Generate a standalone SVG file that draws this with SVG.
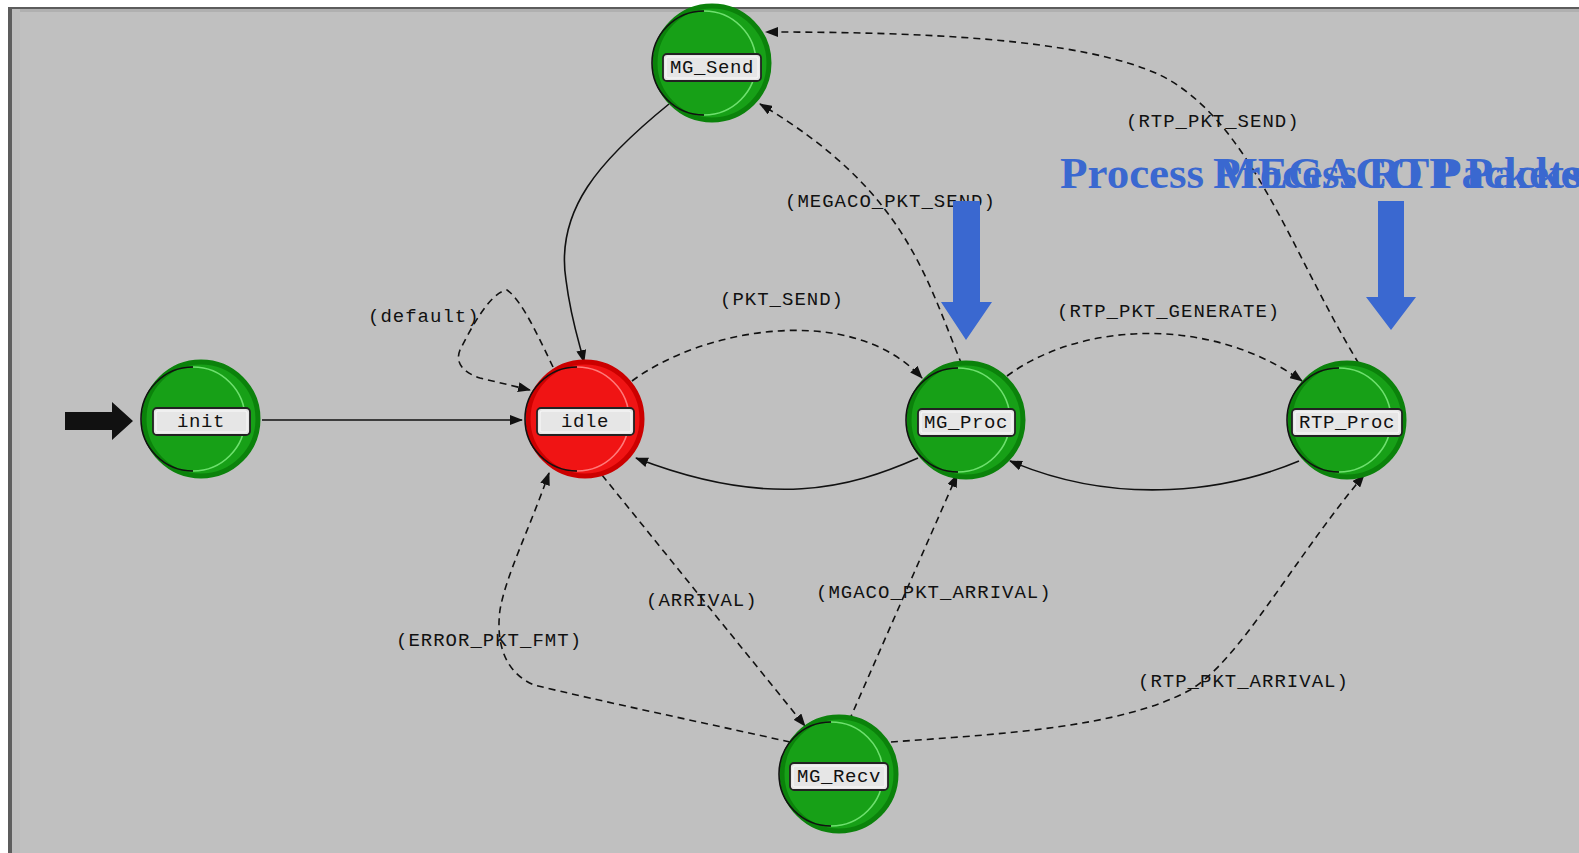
<svg xmlns="http://www.w3.org/2000/svg" width="1579" height="853" viewBox="0 0 1579 853">
  <style>
    .lbl { font-family: "Liberation Mono", "DejaVu Sans Mono", monospace; font-size: 19px; letter-spacing: 1px; fill: #111; }
    .nlbl { font-family: "Liberation Mono", "DejaVu Sans Mono", monospace; font-size: 19px; letter-spacing: 0.6px; fill: #111; text-anchor: middle; }
    .dash { fill: none; stroke: #111; stroke-width: 1.6; stroke-dasharray: 7 5; marker-end: url(#ah); }
    .solid { fill: none; stroke: #111; stroke-width: 1.6; marker-end: url(#ah); }
    .gdisc { fill: #17a017; stroke: #0b820b; stroke-width: 5; }
    .rdisc { fill: #f01414; stroke: #cc0000; stroke-width: 5; }
    .ghi { fill: none; stroke: #6ee06e; stroke-width: 1.6; }
    .rhi { fill: none; stroke: #ff7a7a; stroke-width: 1.6; }
    .lo { fill: none; stroke: #111; stroke-width: 1.6; }
    .box { fill: #e6e6e6; stroke: #222; stroke-width: 1.8; }
    .boxin { fill: none; stroke: #fafafa; stroke-width: 1; }
    .title { font-family: "Liberation Serif", "Times New Roman", serif; font-weight: bold; font-size: 45px; fill: #3a68d0; }
    .blue { fill: #3a68d0; }
  </style>
  <defs>
    <marker id="ah" markerUnits="userSpaceOnUse" markerWidth="13" markerHeight="10" refX="12" refY="5" orient="auto">
      <path d="M0,0 L13,5 L0,10 z" fill="#111"/>
    </marker>
  </defs>

  <!-- canvas and frame -->
  <rect x="0" y="0" width="1579" height="853" fill="#ffffff"/>
  <rect x="8" y="7" width="1571" height="846" fill="#c0c0c0"/>
  <rect x="8" y="7" width="1571" height="2" fill="#5c5c5c"/>
  <rect x="8" y="9" width="1571" height="3" fill="#b0b0b0"/>
  <rect x="8" y="7" width="4" height="846" fill="#5c5c5c"/>
  <rect x="12" y="9" width="8" height="844" fill="#bcbcbc"/>

  <!-- connectors -->
  <g id="connectors">
    <path class="solid" d="M262,420 L522,420"/>
    <!-- (default) self loop on idle -->
    <path class="dash" d="M553,367 C540,340 522,300 507,290 C490,292 470,330 460,350 C455,362 462,372 480,378 L530,390"/>
    <path class="dash" d="M632,381 C700,330 850,300 922,378"/>
    <path class="solid" d="M918,458 C850,488 770,510 636,458"/>
    <path class="dash" d="M1007,376 C1080,322 1210,315 1302,381"/>
    <path class="solid" d="M1299,461 C1230,490 1120,508 1010,461"/>
    <path class="dash" d="M962,365 C925,275 905,190 760,104"/>
    <path class="dash" d="M1359,364 C1290,250 1250,120 1160,75 C1080,38 920,32 766,32"/>
    <path class="solid" d="M669,104 C600,160 555,210 566,280 C571,320 580,345 584,362"/>
    <path class="dash" d="M602,475 L805,726"/>
    <path class="dash" d="M849,721 L957,475"/>
    <path class="dash" d="M790,742 C705,723 604,702 534,685 C503,672 496,640 500,610 C506,575 529,530 549,473"/>
    <path class="dash" d="M891,742 C1000,734 1120,728 1190,690 C1240,660 1290,564 1364,475"/>
  </g>

  <!-- transition labels -->
  <g id="labels">
    <text class="lbl" x="368" y="322">(default)</text>
    <text class="lbl" x="720" y="305">(PKT_SEND)</text>
    <text class="lbl" x="785" y="207">(MEGACO_PKT_SEND)</text>
    <text class="lbl" x="1126" y="127">(RTP_PKT_SEND)</text>
    <text class="lbl" x="1057" y="317">(RTP_PKT_GENERATE)</text>
    <text class="lbl" x="646" y="606">(ARRIVAL)</text>
    <text class="lbl" x="816" y="598">(MGACO_PKT_ARRIVAL)</text>
    <text class="lbl" x="396" y="646">(ERROR_PKT_FMT)</text>
    <text class="lbl" x="1138" y="687">(RTP_PKT_ARRIVAL)</text>
  </g>

  <!-- initial-state marker -->
  <polygon points="65,412 112,412 112,402 133,421 112,440 112,430 65,430" fill="#111"/>

  <!-- states -->
  <g id="init" transform="translate(201,419)">
    <circle class="gdisc" r="57"/>
    <path class="lo" d="M-8,-52 A52,52 0 0 0 -8,52"/>
    <path class="ghi" d="M-8,-52 A52,52 0 0 1 -8,52"/>
    <rect class="box" x="-48" y="-11" width="97" height="27" rx="4"/>
    <rect class="boxin" x="-45" y="-8" width="91" height="21" rx="2"/>
    <text class="nlbl" x="0" y="8">init</text>
  </g>
  <g id="idle" transform="translate(585,419)">
    <circle class="rdisc" r="57"/>
    <path class="lo" d="M-8,-52 A52,52 0 0 0 -8,52"/>
    <path class="rhi" d="M-8,-52 A52,52 0 0 1 -8,52"/>
    <rect class="box" x="-48" y="-11" width="97" height="27" rx="4"/>
    <rect class="boxin" x="-45" y="-8" width="91" height="21" rx="2"/>
    <text class="nlbl" x="0" y="8">idle</text>
  </g>
  <g id="MG_Proc" transform="translate(966,420)">
    <circle class="gdisc" r="57"/>
    <path class="lo" d="M-8,-52 A52,52 0 0 0 -8,52"/>
    <path class="ghi" d="M-8,-52 A52,52 0 0 1 -8,52"/>
    <rect class="box" x="-48" y="-11" width="97" height="27" rx="4"/>
    <rect class="boxin" x="-45" y="-8" width="91" height="21" rx="2"/>
    <text class="nlbl" x="0" y="8">MG_Proc</text>
  </g>
  <g id="RTP_Proc" transform="translate(1347,420)">
    <circle class="gdisc" r="57"/>
    <path class="lo" d="M-8,-52 A52,52 0 0 0 -8,52"/>
    <path class="ghi" d="M-8,-52 A52,52 0 0 1 -8,52"/>
    <rect class="box" x="-55" y="-11" width="110" height="27" rx="4"/>
    <rect class="boxin" x="-52" y="-8" width="104" height="21" rx="2"/>
    <text class="nlbl" x="0" y="8">RTP_Proc</text>
  </g>
  <g id="MG_Send" transform="translate(712,63)">
    <circle class="gdisc" r="57"/>
    <path class="lo" d="M-8,-52 A52,52 0 0 0 -8,52"/>
    <path class="ghi" d="M-8,-52 A52,52 0 0 1 -8,52"/>
    <rect class="box" x="-49" y="-9" width="98" height="27" rx="4"/>
    <rect class="boxin" x="-46" y="-6" width="92" height="21" rx="2"/>
    <text class="nlbl" x="0" y="10">MG_Send</text>
  </g>
  <g id="MG_Recv" transform="translate(839,774)">
    <circle class="gdisc" r="57"/>
    <path class="lo" d="M-8,-52 A52,52 0 0 0 -8,52"/>
    <path class="ghi" d="M-8,-52 A52,52 0 0 1 -8,52"/>
    <rect class="box" x="-49" y="-11" width="98" height="27" rx="4"/>
    <rect class="boxin" x="-46" y="-8" width="92" height="21" rx="2"/>
    <text class="nlbl" x="0" y="8">MG_Recv</text>
  </g>

  <!-- annotations -->
  <g id="notes">
    <text class="title" x="1060" y="188">Process MEGACO Packets</text>
    <text class="title" x="1213" y="188">Process RTP Packets</text>
    <polygon class="blue" points="953,201 980,201 980,302 992,302 966,340 941,302 953,302"/>
    <polygon class="blue" points="1378,201 1404,201 1404,297 1416,297 1391,330 1366,297 1378,297"/>
  </g>
</svg>
